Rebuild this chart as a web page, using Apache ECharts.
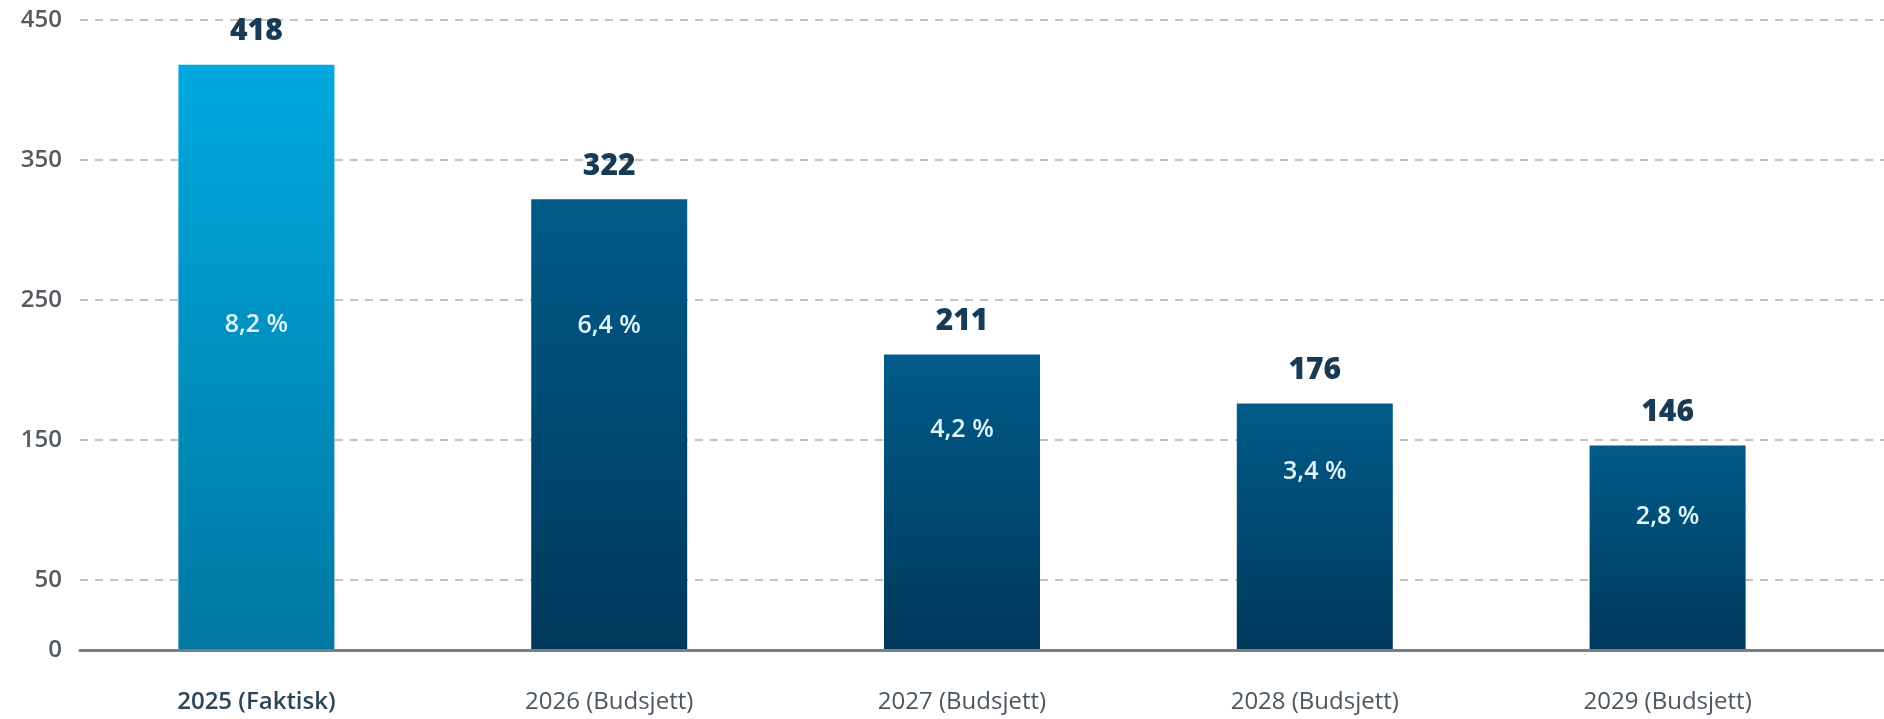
<!DOCTYPE html>
<html>
<head>
<meta charset="utf-8">
<title>Budsjett</title>
<script src="https://cdn.jsdelivr.net/npm/echarts@6/dist/echarts.min.js"></script>
<style>
  html, body { margin: 0; padding: 0; background: #fff; }
  #chart { width: 1884px; height: 719px; }
</style>
</head>
<body>
<div id="chart"></div>
<script>
// data
const categories = ['2025 (Faktisk)', '2026 (Budsjett)', '2027 (Budsjett)', '2028 (Budsjett)', '2029 (Budsjett)']
const values = [418, 322, 211, 176, 146]
const pctLabels = ['8,2 %', '6,4 %', '4,2 %', '3,4 %', '2,8 %']
const yTicks = [0, 50, 150, 250, 350, 450]

// distance (px) from bar top to centre of the percent label
const pctLabelTop = [260, 127, 75, 68, 71]

const chart = echarts.init(document.getElementById('chart'))

const font = '"Open Sans", "Noto Sans", sans-serif'

// first bar is lighter blue, the rest dark navy
function barColor(index) {
  if (index === 0) {
    return new echarts.graphic.LinearGradient(0, 0, 0, 1, [
      { offset: 0, color: '#00a9de' },
      { offset: 1, color: '#0078a2' },
    ])
  }
  return new echarts.graphic.LinearGradient(0, 0, 0, 1, [
    { offset: 0, color: '#005b89' },
    { offset: 1, color: '#00385b' },
  ])
}

const barData = values.map((v, i) => ({
  value: v,
  itemStyle: { color: barColor(i) },
}))

const pctData = values.map((v, i) => ({
  value: v,
  label: {
    show: true,
    position: ['50%', pctLabelTop[i]],
    formatter: pctLabels[i],
  },
}))

const option = {
  animation: false,
  grid: [
    // bars
    { left: 80, right: 40, top: 20, bottom: 69 },
    // full-width grid lines + base line
    { left: 80, right: 0, top: 20, bottom: 69 },
  ],
  xAxis: [
    {
      gridIndex: 0,
      type: 'category',
      data: categories,
      axisLine: { show: false },
      axisTick: { show: false },
      axisLabel: {
        margin: 40,
        formatter: (val, idx) => idx === 0 ? '{first|' + val + '}' : '{rest|' + val + '}',
        rich: {
          first: { fontFamily: font, fontSize: 24, fontWeight: 600, color: '#2a475a' },
          rest: { fontFamily: font, fontSize: 24, fontWeight: 500, color: '#4a5660' },
        },
      },
    },
    {
      gridIndex: 1,
      type: 'value',
      min: 0,
      max: 1,
      z: 5,
      axisLine: { show: true, onZero: false, lineStyle: { color: '#7a7f83', width: 3 } },
      axisTick: { show: false },
      axisLabel: { show: false },
      splitLine: { show: false },
    },
  ],
  yAxis: [
    {
      gridIndex: 0,
      type: 'value',
      min: 0,
      max: 450,
      show: false,
      splitLine: { show: false },
    },
    {
      gridIndex: 1,
      type: 'value',
      min: 0,
      max: 450,
      axisLine: { show: false },
      axisTick: { show: false, customValues: yTicks },
      axisLabel: {
        margin: 18,
        customValues: yTicks,
        fontFamily: font,
        fontSize: 24,
        fontWeight: 600,
        color: '#545b61',
      },
      splitLine: {
        show: true,
        lineStyle: { color: '#c2c2c2', width: 2, type: [8, 7] },
      },
    },
  ],
  series: [
    {
      type: 'bar',
      xAxisIndex: 0,
      yAxisIndex: 0,
      barWidth: 156,
      data: barData,
      label: {
        show: true,
        position: 'top',
        distance: 18,
        fontFamily: font,
        fontSize: 30,
        fontWeight: 800,
        color: '#183a55',
      },
    },
    {
      // transparent overlay, only carries the percent labels
      type: 'bar',
      xAxisIndex: 0,
      yAxisIndex: 0,
      barWidth: 156,
      barGap: '-100%',
      silent: true,
      data: pctData,
      itemStyle: { color: 'rgba(0,0,0,0)' },
      label: {
        show: true,
        align: 'center',
        verticalAlign: 'middle',
        fontFamily: font,
        fontSize: 25,
        fontWeight: 600,
        color: '#e2f5fc',
      },
    },
  ],
}

chart.setOption(option)
</script>
</body>
</html>
